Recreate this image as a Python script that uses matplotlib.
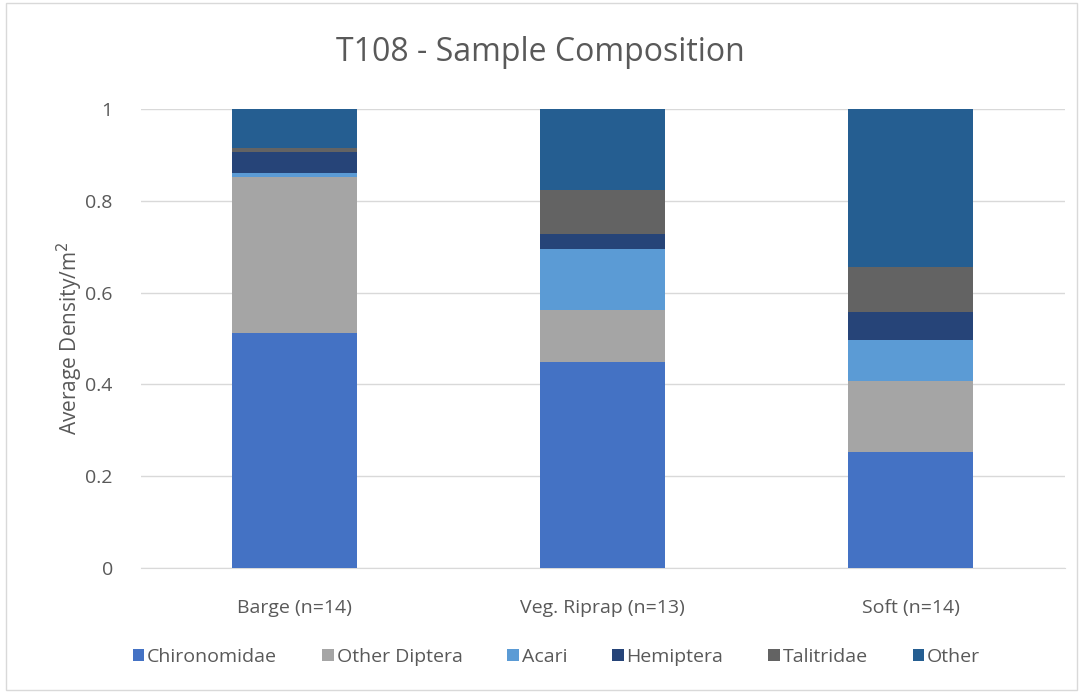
import numpy as np
import matplotlib
matplotlib.use('Agg')
import matplotlib.pyplot as plt
from matplotlib.patches import Rectangle

plt.rcParams['font.family'] = ['Open Sans', 'DejaVu Sans']

sites = ['Barge (n=14)', 'Veg. Riprap (n=13)', 'Soft (n=14)']
taxa = ['Chironomidae', 'Other Diptera', 'Acari', 'Hemiptera', 'Talitridae', 'Other']
colors = ['#4472C4', '#A5A5A5', '#5B9BD5', '#264478', '#636363', '#255E91']

chironomidae = [0.512, 0.449, 0.252]
other_diptera = [0.340, 0.113, 0.156]
acari = [0.009, 0.133, 0.089]
hemiptera = [0.045, 0.032, 0.060]
talitridae = [0.009, 0.097, 0.099]
other = [0.085, 0.176, 0.344]

series = [chironomidae, other_diptera, acari, hemiptera, talitridae, other]

fig = plt.figure(figsize=(10.81, 6.93), dpi=100)
ax = fig.add_axes([0.130, 0.180, 0.855, 0.663])
txt = '#595959'

x = np.arange(len(sites))
bottom = np.zeros(len(sites))
for name, vals, c in zip(taxa, series, colors):
    ax.bar(x, vals, width=0.405, bottom=bottom, color=c, label=name, zorder=3)
    bottom += np.array(vals)

ax.set_xlim(-0.5, 2.5)
ax.set_ylim(0, 1)
ax.set_yticks([0, 0.2, 0.4, 0.6, 0.8, 1])
ax.set_yticklabels(['0', '0.2', '0.4', '0.6', '0.8', '1'])
ax.set_xticks(x)
ax.set_xticklabels(sites)
ax.tick_params(axis='both', length=0, labelsize=14, colors=txt)
ax.tick_params(axis='y', pad=20)
ax.tick_params(axis='x', pad=22)
ax.grid(axis='y', color='#D9D9D9', linewidth=1, zorder=0)
for s in ['top', 'right', 'left']:
    ax.spines[s].set_visible(False)
ax.spines['bottom'].set_color('#D9D9D9')
ax.set_ylabel('Average Density/m$^2$', fontsize=15, color=txt, labelpad=0)

fig.suptitle('T108 - Sample Composition', fontsize=23, color=txt, y=0.948)

ax.legend(loc='upper center', bbox_to_anchor=(0.45, -0.135), ncol=6, frameon=False,
          fontsize=14, handlelength=0.6, handleheight=0.6, handletextpad=0.15,
          columnspacing=2.3, labelcolor=txt)

fig.patches.append(Rectangle((0.006, 0.005), 0.99, 0.99, transform=fig.transFigure,
                             fill=False, edgecolor='#D9D9D9', linewidth=1))

fig.savefig('out.png', dpi=100)
